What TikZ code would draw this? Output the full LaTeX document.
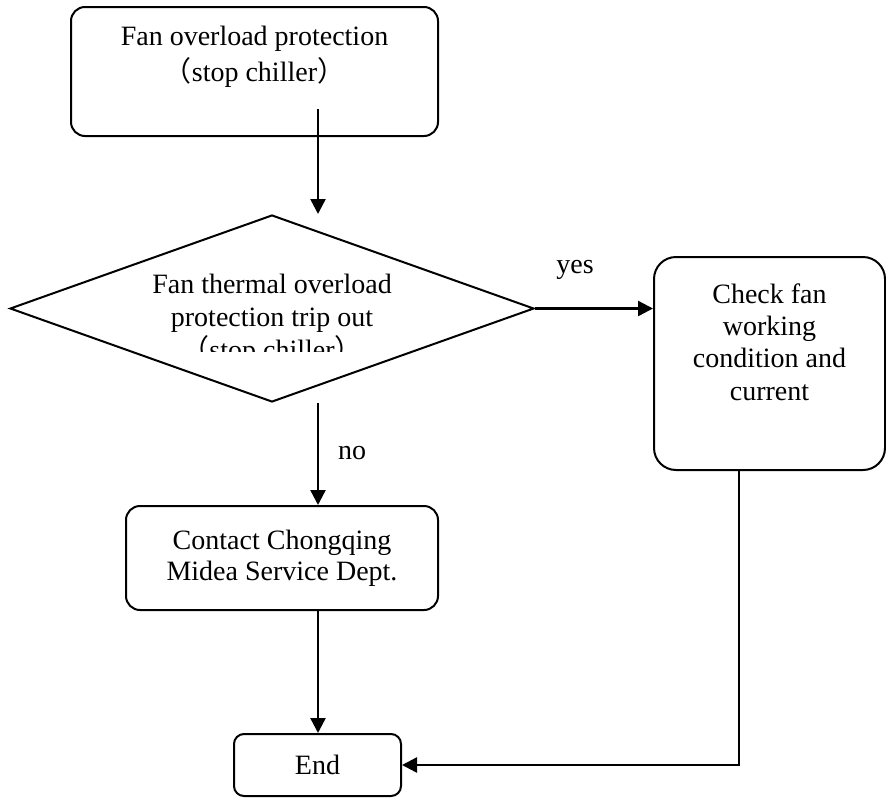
\documentclass[tikz,border=0pt]{standalone}
\usepackage{fontspec}
\setmainfont{Liberation Serif}
\newfontfamily\cjk{Noto Sans CJK SC}
\usetikzlibrary{positioning,arrows.meta,shapes.geometric}

\begin{document}
\begin{tikzpicture}[x=1pt, y=-1pt,
  box/.style={draw=black, line width=2pt, rounded corners=#1, align=center,
              inner sep=0pt, font=\fontsize{28}{33}\selectfont},
  box/.default=14pt,
  decision/.style={draw=black, line width=2pt, diamond, inner sep=0pt,
                   minimum width=524pt, minimum height=187pt},
  txt/.style={align=center, inner sep=0pt, font=\fontsize{28}{33}\selectfont},
  arr/.style={-{Triangle[length=15pt,width=15pt]}, line width=2.4pt}]
  \useasboundingbox (0,0) rectangle (886,798);

  % boxes
  \node[box, minimum width=367pt, minimum height=129pt,
        font=\fontsize{28}{36}\selectfont] (fan) at (254.5,71.5)
        {Fan overload protection\\{\cjk （}stop chiller{\cjk ）}\\\mbox{}};
  \node[decision] (trip) at (272,308.5) {};
  \node[box=22pt, minimum width=231pt, minimum height=213pt,
        font=\fontsize{28}{32.3}\selectfont] (check) at (769.5,363.5)
        {Check fan\\working\\condition and\\current\\[11pt]\mbox{}};
  \node[box, minimum width=312pt, minimum height=104pt,
        font=\fontsize{28}{31}\selectfont] (contact) at (282,558)
        {Contact Chongqing\\Midea Service Dept.};
  \node[box=10pt, minimum width=167pt, minimum height=62pt] (finish) at (317.5,765) {End};

  % text of the decision, cut off at the bottom
  \begin{scope}
    \clip (0,0) rectangle (886,351);
    \node[txt, anchor=base] (triptext) at (272,359)
      {Fan thermal overload\\protection trip out\\{\cjk （}stop chiller{\cjk ）}};
  \end{scope}

  % connectors
  \coordinate (stem) at (318,109);
  \coordinate (side) at (739,470);
  \draw[arr] (stem) -- (stem |- trip.north);
  \draw[arr] (trip.east) -- (trip.east -| check.west);
  \draw[arr] (stem |- trip.south) -- (stem |- contact.north);
  \draw[arr] (stem |- contact.south) -- (stem |- finish.north);
  \draw[arr] (side |- check.south) -- (side |- finish.east) -- (finish.east);

  \node[txt, anchor=base] (yes) at (575,273) {yes};
  \node[txt, anchor=base] (no) at (352,459) {no};
\end{tikzpicture}
\end{document}
